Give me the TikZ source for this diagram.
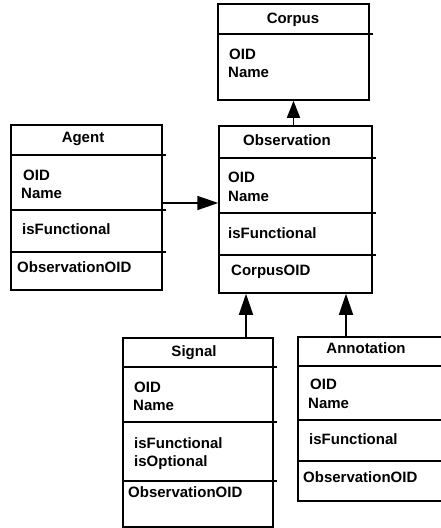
\documentclass[tikz,border=0pt]{standalone}
\usepackage{fontspec}
\setmainfont{Liberation Sans}
\usetikzlibrary{arrows.meta}
\begin{document}
\begin{tikzpicture}[x=1pt,y=-1pt,
  box/.style={draw, line width=1.5pt, inner sep=0pt},
  div/.style={line width=1.5pt},
  txt/.style={inner sep=0pt, anchor=base west, font=\fontsize{15}{18}\selectfont\bfseries},
  ttl/.style={inner sep=0pt, anchor=base, font=\fontsize{15}{18}\selectfont\bfseries},
  arr/.style={line width=1.5pt, -{Triangle[length=21pt,width=14pt]}}]
\useasboundingbox (0,0) rectangle (440,528);
% boxes
\node[box, minimum width=151pt, minimum height=96pt] (corpus) at (293.5,52) {};
\node[box, minimum width=151pt, minimum height=165pt] (agent) at (86.5,207.5) {};
\node[box, minimum width=153pt, minimum height=167pt] (obs) at (295.5,209.5) {};
\node[box, minimum width=150pt, minimum height=189pt] (signal) at (198,432.5) {};
\node[box, minimum width=148pt, minimum height=164pt] (annot) at (372,419) {};
% dividers
\draw[div] (corpus.west |- 0,34) -- ([xshift=3pt]corpus.east |- 0,34);
\foreach \y in {155,210,252}{\draw[div] (agent.west |- 0,\y) -- ([xshift=3pt]agent.east |- 0,\y);}
\foreach \y in {158,213,255}{\draw[div] (obs.west |- 0,\y) -- ([xshift=3pt]obs.east |- 0,\y);}
\foreach \y in {367,422,481}{\draw[div] (signal.west |- 0,\y) -- ([xshift=3pt]signal.east |- 0,\y);}
\foreach \y in {366,420,461}{\draw[div] (annot.west |- 0,\y) -- (annot.east |- 0,\y);}
% Corpus
\node[ttl] (corpusT) at (293,23) {Corpus};
\node[txt] (corpus1) at (229,59) {OID};
\node[txt] (corpus2) at (228,77) {Name};
% Agent
\node[ttl] (agentT) at (83,142) {Agent};
\node[txt] (agent1) at (23,180) {OID};
\node[txt] (agent2) at (21,198) {Name};
\node[txt] (agent3) at (22,234) {isFunctional};
\node[txt] (agent4) at (17,272) {ObservationOID};
% Observation
\node[ttl] (obsT) at (287,145) {Observation};
\node[txt] (obs1) at (228,182) {OID};
\node[txt] (obs2) at (228,201) {Name};
\node[txt] (obs3) at (228,238) {isFunctional};
\node[txt] (obs4) at (231,275) {CorpusOID};
% Signal
\node[ttl] (signalT) at (194,356) {Signal};
\node[txt] (signal1) at (134,392) {OID};
\node[txt] (signal2) at (133,410) {Name};
\node[txt] (signal3) at (134,448) {isFunctional};
\node[txt] (signal4) at (134,466) {isOptional};
\node[txt] (signal5) at (128,497) {ObservationOID};
% Annotation
\node[ttl] (annotT) at (366,353) {Annotation};
\node[txt] (annot1) at (310,389) {OID};
\node[txt] (annot2) at (308,408) {Name};
\node[txt] (annot3) at (309,444) {isFunctional};
\node[txt] (annot4) at (303,482) {ObservationOID};
% connectors
\draw[arr] (agent.east |- 0,203) -- (obs.west |- 0,203);
\draw[line width=1.5pt, -{Triangle[length=17pt,width=13pt]}] (obs.north -| corpus.south) -- (corpus.south);
\draw[arr] ([xshift=48pt]signal.north) -- ([xshift=48pt]signal.north |- obs.south);
\draw[arr] ([xshift=-26pt]annot.north) -- ([xshift=-26pt]annot.north |- obs.south);
\end{tikzpicture}
\end{document}
